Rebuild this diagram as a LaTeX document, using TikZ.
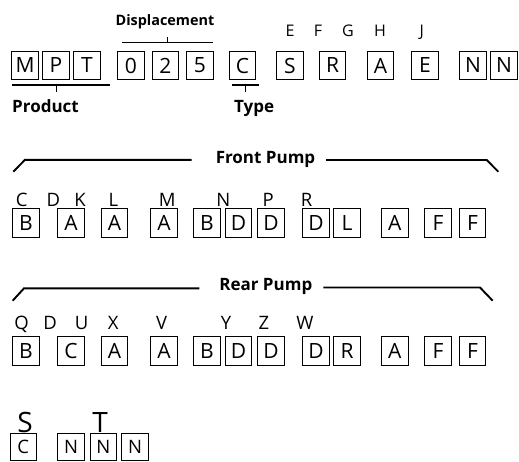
\documentclass[tikz,border=0pt]{standalone}
\usepackage{fontspec}
\setmainfont{Open Sans}
\begin{document}
\begin{tikzpicture}[x=1pt,y=-1pt,
  bx/.style={draw, line width=0.9pt, minimum width=26.5pt, minimum height=28.5pt, inner sep=0pt, font=\fontsize{21}{21}\selectfont},
  sbx/.style={bx, minimum height=27.5pt, font=\fontsize{18.5}{18.5}\selectfont},
  toplbl/.style={anchor=base, inner sep=0pt, font=\fontsize{16}{16}\selectfont},
  pumplbl/.style={anchor=base, inner sep=0pt, font=\fontsize{18.5}{18.5}\selectfont},
  biglbl/.style={anchor=base, inner sep=0pt, font=\fontsize{28}{28}\selectfont},
  boldlbl/.style={anchor=base, inner sep=0pt, font=\bfseries\fontsize{17}{17}\selectfont},
  brk/.style={line width=1.2pt},
  pbrk/.style={line width=1.9pt}]
\useasboundingbox (0,0) rectangle (519,461);

% ---- Row 1 ----
\foreach \x/\t [count=\i] in {25/M,56/P,87/T,131/0,165.5/2,200/5,242.5/C,290/S,332.5/R,380.5/A,425/E,473/N,504/N}
  \node[bx] (a\i) at (\x,65.5) {\t};
\foreach \x/\t [count=\i] in {290/E,318/F,348/G,380/H,421.7/J}
  \node[toplbl] (ta\i) at (\x,36.5) {\t};

\node[anchor=base, inner sep=0pt, font=\bfseries\fontsize{14.4}{14.4}\selectfont] (disp) at (165,25) {Displacement};
\coordinate (d1) at (122,42.7); \coordinate (d2) at (213,42.7);
\coordinate (dm) at (167.7,42.7); \coordinate (dt) at (167.7,36.7);
\draw[brk] (d1) -- (d2) (dm) -- (dt);

\coordinate (p1) at (12,85); \coordinate (p2) at (110,85);
\coordinate (pm) at (56.7,85); \coordinate (pt) at (56.7,91.7);
\draw[brk] (p1) -- (p2) (pm) -- (pt);
\node[boldlbl, anchor=base west] (prod) at (12,112) {Product};

\coordinate (y1) at (232,85); \coordinate (y2) at (259,85);
\coordinate (ym) at (245.7,85); \coordinate (yt) at (245.7,91.7);
\draw[brk] (y1) -- (y2) (ym) -- (yt);
\node[boldlbl, anchor=base west] (type) at (234,112) {Type};

% ---- Front pump ----
\node[boldlbl] (front) at (265.5,163) {Front Pump};
\coordinate (f1) at (13.3,171.7); \coordinate (f2) at (25,159.8); \coordinate (f3) at (191.7,159.8);
\coordinate (f4) at (326,160); \coordinate (f5) at (486.7,160); \coordinate (f6) at (498.3,171.7);
\draw[pbrk] (f1) -- (f2) -- (f3);
\draw[pbrk] (f4) -- (f5) -- (f6);
\foreach \x/\t [count=\i] in {21.7/C,53.3/D,80/K,113.3/L,167.3/M,223.3/N,268.3/P,306.7/R}
  \node[pumplbl] (tf\i) at (\x,206.5) {\t};
\foreach \x/\t [count=\i] in {26/B,71/A,114.5/A,164/A,207/B,238.5/D,271/D,316/D,347/L,394.7/A,438/F,472.6/F}
  \node[bx] (f\i) at (\x,223) {\t};

% ---- Rear pump ----
\node[boldlbl] (rear) at (265.8,290) {Rear Pump};
\coordinate (r1) at (12.7,300.7); \coordinate (r2) at (24,288.3); \coordinate (r3) at (199.3,288.3);
\coordinate (r4) at (323.3,287.5); \coordinate (r5) at (480,287.5); \coordinate (r6) at (492.7,300.7);
\draw[pbrk] (r1) -- (r2) -- (r3);
\draw[pbrk] (r4) -- (r5) -- (r6);
\foreach \x/\t [count=\i] in {21.7/Q,50/D,81.7/U,113.3/X,161.7/V,226/Y,264/Z,305/W}
  \node[pumplbl] (tr\i) at (\x,329.5) {\t};
\foreach \x/\t [count=\i] in {26/B,71/C,114.5/A,164/A,207/B,238.5/D,271/D,316/D,347/R,394.7/A,438/F,472.6/F}
  \node[bx] (rb\i) at (\x,351) {\t};

% ---- Bottom ----
\node[biglbl] (s) at (25,432.5) {S};
\node[biglbl] (t) at (100,432.5) {T};
\foreach \x/\t [count=\i] in {23.3/C,71/N,103.3/N,135/N}
  \node[sbx] (b\i) at (\x,446.8) {\t};
\end{tikzpicture}
\end{document}
